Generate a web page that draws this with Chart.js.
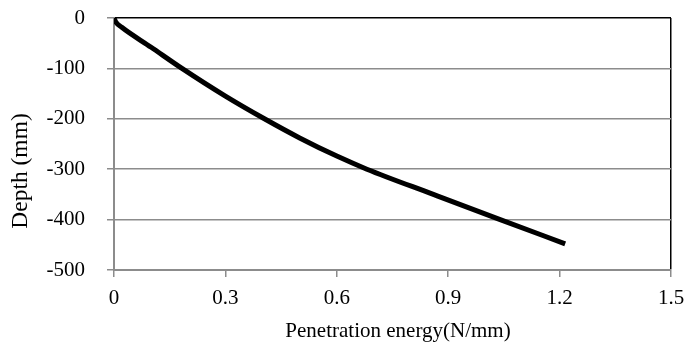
<!DOCTYPE html>
<html>
<head>
<meta charset="utf-8">
<script src="https://cdn.jsdelivr.net/npm/chart.js@4"></script>
<style>
  html, body { margin: 0; padding: 0; background: #fff; }
  #wrap { width: 686px; height: 348px; }
</style>
</head>
<body>
<div id="wrap"><canvas id="grafico"></canvas></div>
<script>
// values
const energia = [0, 0.005, 0.02, 0.1, 0.183, 0.3, 0.405, 0.5, 0.6, 0.681, 0.86, 1.04, 1.215];
const profundidad = [0, -8, -18, -58, -100, -155, -200, -238, -274, -300, -350, -400, -448];
const xTicks = [0, 0.3, 0.6, 0.9, 1.2, 1.5];
const yTicks = [0, -100, -200, -300, -400, -500];
const tituloX = 'Penetration energy(N/mm)';
const tituloY = 'Depth (mm)';

const puntos = energia.map((x, i) => ({ x: x, y: profundidad[i] }));
const gris = '#8c8c8c';
const familia = '"Liberation Serif", "Times New Roman", serif';
const fuente = { family: familia, size: 21 };

// axis titles, placed like the Excel original (not centred on the plot)
const titulos = {
    id: 'titulos',
    afterDraw(chart) {
        const c = chart.ctx;
        c.save();
        c.fillStyle = '#000';
        c.textAlign = 'center';
        c.textBaseline = 'middle';
        c.font = '21px ' + familia;
        c.fillText(tituloX, 398, 331);
        c.translate(21, 171);
        c.rotate(-Math.PI / 2);
        c.font = '23.5px ' + familia;
        c.fillText(tituloY, 0, 0);
        c.restore();
    }
};

const ctx = document.getElementById('grafico');

new Chart(ctx, {
    type: 'scatter',
    data: {
        datasets: [{
            data: puntos,
            showLine: true,
            borderColor: '#000',
            borderWidth: 5,
            pointRadius: 0,
            cubicInterpolationMode: 'monotone',
            fill: false
        }]
    },
    options: {
        responsive: true,
        maintainAspectRatio: false,
        animation: false,
        layout: { padding: { left: 0, right: 15, top: 18, bottom: 0 } },
        plugins: { legend: { display: false }, tooltip: { enabled: false } },
        scales: {
            x: {
                type: 'linear',
                min: 0,
                max: 1.5,
                afterBuildTicks: (axis) => { axis.ticks = xTicks.map(v => ({ value: v })); },
                afterFit: (axis) => {
                    axis.height = 78;
                    axis.paddingLeft = 0;
                    axis.paddingRight = 0;
                },
                ticks: { color: '#000', font: fuente, padding: 9, callback: v => String(v) },
                grid: {
                    drawOnChartArea: true,
                    tickLength: 7,
                    lineWidth: 1.5,
                    tickColor: gris,
                    color: (c) => (c.tick && c.tick.value === 1.5) ? '#000' : 'rgba(0,0,0,0)'
                },
                border: { color: gris, width: 2 }
            },
            y: {
                type: 'linear',
                min: -500,
                max: 0,
                afterBuildTicks: (axis) => { axis.ticks = yTicks.map(v => ({ value: v })); },
                afterFit: (axis) => {
                    axis.width = 114;
                    axis.paddingTop = 0;
                    axis.paddingBottom = 0;
                },
                ticks: { color: '#000', font: fuente, padding: 22 },
                grid: {
                    tickLength: 7,
                    lineWidth: 1.5,
                    tickColor: gris,
                    color: (c) => (c.tick && c.tick.value === 0) ? '#000' : gris
                },
                border: { color: gris, width: 2 }
            }
        }
    },
    plugins: [titulos]
});
</script>
</body>
</html>
